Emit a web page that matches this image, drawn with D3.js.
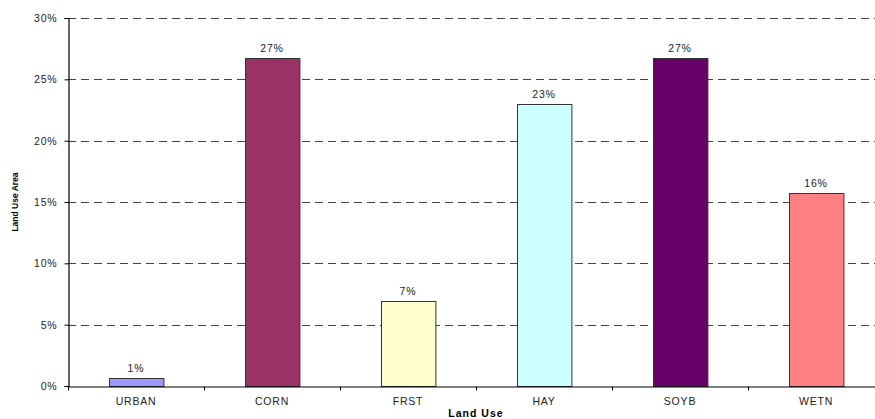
<!DOCTYPE html>
<html>
<head>
<meta charset="utf-8">
<script src="https://cdn.jsdelivr.net/npm/d3@7"></script>
<style>
  body { margin: 0; background: #fff; }
  svg { display: block; font-family: "Liberation Sans", Arial, sans-serif; }
</style>
</head>
<body>
<div id="chart"></div>
<script>
const categories = ["URBAN", "CORN", "FRST", "HAY", "SOYB", "WETN"];
const shares = [0.65, 26.7, 6.9, 23.0, 26.7, 15.75];
const valueLabels = ["1%", "27%", "7%", "23%", "27%", "16%"];
const barColors = ["#9999ff", "#993366", "#ffffcc", "#ccffff", "#660066", "#ff8080"];
const yTicks = [0, 5, 10, 15, 20, 25, 30];

const width = 875, height = 419;
const margin = { top: 18, right: -9, bottom: 33, left: 68 };

const svg = d3.select("#chart").append("svg")
    .attr("width", width)
    .attr("height", height);

const x = d3.scaleBand()
    .domain(categories)
    .range([margin.left, width - margin.right])
    .paddingInner(0.6)
    .paddingOuter(0.3);

// band edges for category ticks
const step = x.step();
const x0 = margin.left;

const y = d3.scaleLinear()
    .domain([0, 30])
    .range([height - margin.bottom, margin.top]);

// gridlines
svg.append("g")
    .selectAll("line")
    .data(yTicks.filter(d => d > 0))
    .join("line")
    .attr("x1", margin.left)
    .attr("x2", width - margin.right)
    .attr("y1", d => Math.round(y(d)) + 0.5)
    .attr("y2", d => Math.round(y(d)) + 0.5)
    .attr("stroke", "#444")
    .attr("stroke-dasharray", "8,5");

// bars
svg.append("g")
    .selectAll("rect")
    .data(categories)
    .join("rect")
    .attr("x", d => Math.round(x(d)) + 0.5)
    .attr("y", (d, i) => Math.round(y(shares[i])) + 0.5)
    .attr("width", x.bandwidth())
    .attr("height", (d, i) => Math.round(y(0)) - Math.round(y(shares[i])))
    .attr("fill", (d, i) => barColors[i])
    .attr("stroke", "#333")
    .attr("stroke-width", 1);

// value labels
svg.append("g")
    .selectAll("text")
    .data(categories)
    .join("text")
    .attr("x", d => x(d) + x.bandwidth() / 2)
    .attr("y", (d, i) => y(shares[i]) - 6)
    .attr("text-anchor", "middle")
    .attr("font-size", 10.5)
    .attr("letter-spacing", 0.8)
    .attr("fill", "#222")
    .text((d, i) => valueLabels[i]);

// y axis
const yAxis = d3.axisLeft(y)
    .tickValues(yTicks)
    .tickFormat(d => d + "%")
    .tickSize(4)
    .tickPadding(7);

svg.append("g")
    .attr("transform", `translate(${margin.left + 0.5},0)`)
    .call(yAxis)
    .call(g => g.select(".domain").attr("stroke", "#000").attr("stroke-width", 1.2))
    .call(g => g.selectAll(".tick line").attr("stroke", "#000"))
    .call(g => g.selectAll(".tick text").attr("font-size", 10.5).attr("fill", "#222")
        .attr("letter-spacing", 0.8)
        .attr("font-family", "Liberation Sans, Arial, sans-serif"));

// x axis
const xAxis = d3.axisBottom(x).tickSize(0).tickPadding(11);
const xg = svg.append("g")
    .attr("transform", `translate(0,${Math.round(y(0)) + 0.5})`)
    .call(xAxis)
    .call(g => g.select(".domain").attr("stroke", "#000").attr("stroke-width", 1.2))
    .call(g => g.selectAll(".tick text").attr("font-size", 10.5).attr("fill", "#222")
        .attr("letter-spacing", 0.8)
        .attr("font-family", "Liberation Sans, Arial, sans-serif"));

// category separator ticks
xg.append("g")
    .selectAll("line")
    .data(d3.range(categories.length + 1))
    .join("line")
    .attr("x1", i => Math.round(x0 + i * step) + 0.5)
    .attr("x2", i => Math.round(x0 + i * step) + 0.5)
    .attr("y1", 0)
    .attr("y2", 4)
    .attr("stroke", "#000");

// axis titles
svg.append("text")
    .attr("x", x0 + step * categories.length / 2)
    .attr("y", 417)
    .attr("text-anchor", "middle")
    .attr("font-size", 10.5)
    .attr("font-weight", "bold")
    .attr("letter-spacing", 1)
    .text("Land Use");

svg.append("text")
    .attr("transform", `translate(18,${(y(0) + y(30)) / 2}) rotate(-90)`)
    .attr("text-anchor", "middle")
    .attr("font-size", 8.5)
    .attr("font-weight", "bold")
    .text("Land Use Area");
</script>
</body>
</html>
